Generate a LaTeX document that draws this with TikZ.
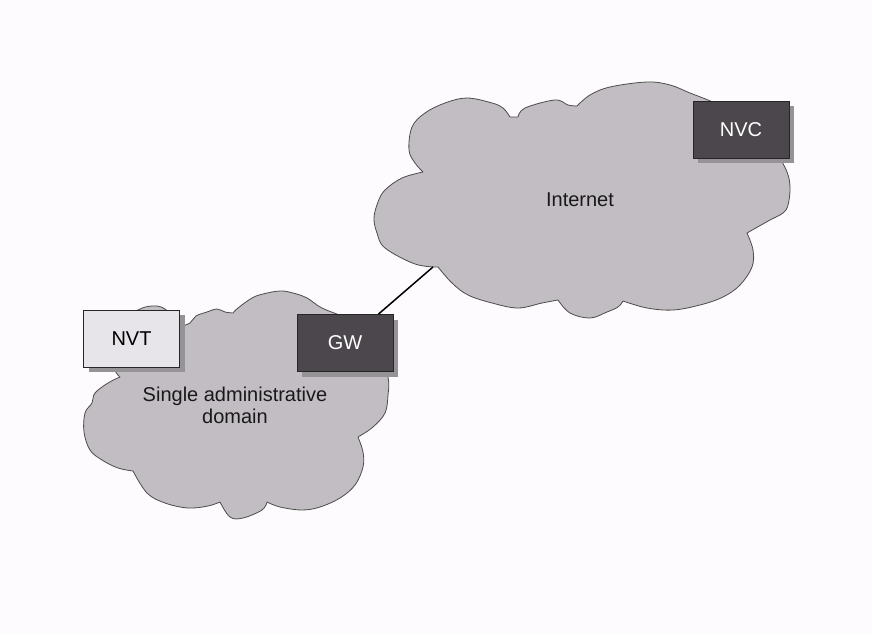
\documentclass[tikz,border=0pt]{standalone}
\usepackage{fontspec}
\setmainfont{Liberation Sans}
\usetikzlibrary{shadows}
\definecolor{bgcol}{RGB}{253,251,253}
\definecolor{cloudcol}{RGB}{194,189,194}
\definecolor{darkcol}{RGB}{76,71,76}
\definecolor{lightcol}{RGB}{232,229,234}
\definecolor{shadecol}{RGB}{150,147,150}
\tikzset{every picture/.style={x=1pt,y=-1pt}}
\tikzset{cloud area/.style={fill=cloudcol,draw=black!70,line width=0.8pt,line join=round}}
\tikzset{lobe/.style={smooth,tension=0.6}}
\tikzset{box/.style={draw=black!85,line width=0.8pt,minimum width=96pt,minimum height=57pt,inner sep=0pt,font=\fontsize{20}{22}\selectfont,general shadow={fill=shadecol,shadow xshift=5pt,shadow yshift=-5pt}}}
\tikzset{darkbox/.style={box,fill=darkcol,text=white}}
\tikzset{lightbox/.style={box,fill=lightcol,text=black}}
\tikzset{cloudtext/.style={font=\fontsize{20}{22}\selectfont,text=black!90}}
\tikzset{link/.style={line width=1.5pt}}

\begin{document}
\begin{tikzpicture}
\fill[bgcol] (0,0) rectangle (872,634);

\draw[cloud area] (423,172)
  -- plot[lobe] coordinates {(423,172) (415,163) (409,150) (412,127) (425,113) (445,103) (467,98) (492,103) (503,108) (510,117)}
  -- (518,117)
  -- plot[lobe] coordinates {(518,117) (525,108) (555,100) (568,105) (577,106)}
  -- plot[lobe] coordinates {(577,106) (590,95) (610,87) (647,82) (670,85) (690,93) (715,103) (755,122) (775,150) (787,172) (790,188) (788,205) (783,213) (770,220) (747,233)}
  -- plot[lobe] coordinates {(747,233) (753,250) (752,267) (740,285) (723,297) (700,305) (673,310) (647,308) (623,301)}
  -- plot[lobe] coordinates {(623,301) (618,307) (607,312) (590,318) (570,313) (558,300)}
  -- plot[lobe] coordinates {(558,300) (542,303) (518,308) (492,303) (468,295) (452,283) (438,267)}
  -- plot[lobe] coordinates {(438,267) (415,264) (385,248) (377,233) (374,218) (378,202) (385,190) (402,178) (423,172)}
  -- cycle;

\draw[cloud area] (182,326)
  -- plot[lobe] coordinates {(182,326) (190,323) (196,316) (207,312) (217,309) (225,312) (233,313)}
  -- plot[lobe] coordinates {(233,313) (238,308) (252,298) (263,294) (280,291) (293,293) (307,298) (322,308) (350,320) (378,340) (388,377) (388,395) (385,413) (373,427) (358,437)}
  -- plot[lobe] coordinates {(358,437) (363,452) (363,467) (355,485) (340,498) (320,507) (302,510) (280,507) (267,502)}
  -- plot[lobe] coordinates {(267,502) (262,510) (243,518) (230,517) (220,502)}
  -- plot[lobe] coordinates {(220,502) (208,506) (188,508) (165,503) (147,493) (133,471)}
  -- plot[lobe] coordinates {(133,471) (118,468) (102,460) (90,450) (84,432) (85,413) (92,403) (95,393) (108,383) (120,377)}
  -- plot[lobe] coordinates {(120,377) (114,368) (112,345) (122,322) (138,310) (152,306) (165,309) (182,326)}
  -- cycle;

\node[darkbox] (nvc) at (741,129.5) {NVC};
\node[darkbox] (gw) at (345,343) {GW};
\node[lightbox] (nvt) at (131.5,338.5) {NVT};

\node[cloudtext] (inet) at (580,200) {Internet};
\node[cloudtext,align=center] (domain) at (235,405) {Single administrative\\domain};

\coordinate (inetedge) at (433,267);
\draw[link] (gw) -- (inetedge);
\end{tikzpicture}
\end{document}
